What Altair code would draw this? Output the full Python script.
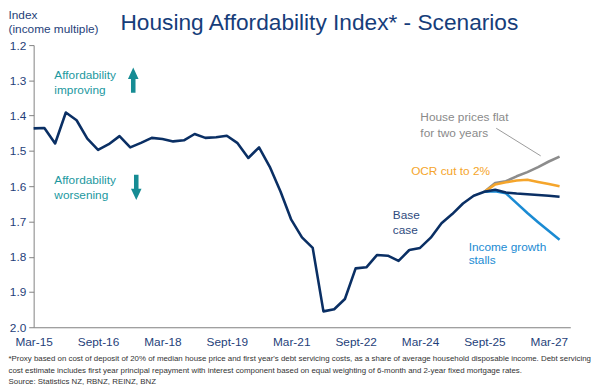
import altair as alt
import pandas as pd

FONT = "Liberation Sans"

# ---- data -----------------------------------------------------------------
# quarterly index 0 = Mar-15 ... 49 = Jun-27
tick_labels = ["Mar-15", "Sept-16", "Mar-18", "Sept-19", "Mar-21",
               "Sept-22", "Mar-24", "Sept-25", "Mar-27"]
tick_step = 6
y_ticks = [1.2, 1.3, 1.4, 1.5, 1.6, 1.7, 1.8, 1.9, 2.0]

# history Mar-15 .. Sept-25
base_hist = [1.436, 1.435, 1.479, 1.391, 1.413, 1.465, 1.497, 1.481, 1.458, 1.490,
             1.477, 1.463, 1.466, 1.473, 1.470, 1.452, 1.463, 1.461, 1.457, 1.478,
             1.520, 1.490, 1.545, 1.615, 1.695, 1.745, 1.775, 1.955, 1.949, 1.920,
             1.833, 1.830, 1.795, 1.797, 1.812, 1.781, 1.775, 1.746, 1.705, 1.679,
             1.649, 1.627, 1.616]
# scenarios Dec-25 .. Jun-27
base_scn = [1.610, 1.618, 1.621, 1.623, 1.625, 1.627, 1.630]
income_scn = [1.614, 1.620, 1.648, 1.676, 1.702, 1.727, 1.752]
ocr_scn = [1.595, 1.589, 1.584, 1.582, 1.588, 1.594, 1.600]
flat_scn = [1.591, 1.586, 1.572, 1.560, 1.546, 1.530, 1.516]

series_names = ["House prices flat", "OCR cut to 2%", "Income growth stalls", "Base case"]
series_colors = ["#8C8C8C", "#F5A52B", "#1B8BD3", "#0A2F64"]

ann_text = ["Affordability", "improving", "Affordability", "worsening",
            "Base", "case", "Income growth", "stalls", "OCR cut to 2%",
            "House prices flat", "for two years"]
ann_q = [1.93, 1.93, 1.93, 1.93, 33.46, 33.46, 40.53, 40.53, 35.17, 36.03, 36.03]
ann_v = [1.2856, 1.3276, 1.5821, 1.6260, 1.6819, 1.7236, 1.7723, 1.8106, 1.558, 1.405, 1.449]
ann_color = ["#1B98A0", "#1B98A0", "#1B98A0", "#1B98A0", "#2E4A7D", "#2E4A7D",
             "#1B8BD3", "#1B8BD3", "#F5A52B", "#8A8A8A", "#8A8A8A"]

arrow_q = [9.28, 9.56]
arrow_v = [1.2993, 1.6034]
connector = {"q": [43.1], "v": [1.4358], "q2": [47.24], "v2": [1.514]}

footnote = [
    "*Proxy based on cost of deposit of 20% of median house price and first year's debt servicing costs, as a share of average household disposable income. Debt servicing",
    "cost estimate includes first year principal repayment with interest component based on equal weighting of 6-month and 2-year fixed mortgage rates.",
    "Source: Statistics NZ, RBNZ, REINZ, BNZ",
]

# ---- tables ---------------------------------------------------------------
rows = []
start = len(base_hist) - 1
for name, vals in [("House prices flat", flat_scn), ("OCR cut to 2%", ocr_scn),
                   ("Income growth stalls", income_scn)]:
    rows.append({"series": name, "q": start, "v": base_hist[-1]})
    for i, v in enumerate(vals):
        rows.append({"series": name, "q": start + 1 + i, "v": v})
for i, v in enumerate(base_hist + base_scn):
    rows.append({"series": "Base case", "q": i, "v": v})
df = pd.DataFrame(rows)

ann_df = pd.DataFrame({"text": ann_text, "q": ann_q, "v": ann_v, "color": ann_color})
conn_df = pd.DataFrame(connector)

label_expr = "[" + ",".join("'%s'" % t for t in tick_labels) + "][round(datum.value/%d)]" % tick_step

x_enc = alt.X(
    "q:Q",
    scale=alt.Scale(domain=[0, 50], nice=False, zero=False),
    axis=alt.Axis(
        values=[i * tick_step for i in range(len(tick_labels))],
        labelExpr=label_expr, ticks=False, grid=False,
        domainColor="#808080", domainWidth=1.2,
        labelColor="#1F3F7A", labelFontSize=12, labelFont=FONT, labelPadding=9,
        labelFlush=False, labelOverlap=False,
        title=footnote, titleFont=FONT, titleFontSize=8, titleFontWeight="normal",
        titleColor="#333333", titleAnchor="start", titleAlign="left",
        titleBaseline="top", titleX=-26, titleY=28, titleLineHeight=11.5,
    ),
)
y_enc = alt.Y(
    "v:Q",
    scale=alt.Scale(domain=[1.2, 2.0], reverse=True, nice=False, zero=False),
    axis=alt.Axis(
        values=y_ticks, format=".1f", grid=False, tickSize=5, tickColor="#808080",
        domainColor="#808080", labelColor="#1F3F7A", labelFontSize=12, labelFont=FONT,
        labelPadding=3, labelOverlap=False, labelFlush=False,
        title=["Index", "(income multiple)"], titleAngle=0, titleAlign="left",
        titleBaseline="top", titleX=-26, titleY=-36, titleFont=FONT, titleFontSize=12,
        titleFontWeight="normal", titleColor="#1F3F7A", titleLineHeight=14,
    ),
)

layers = []
for name, col in zip(series_names, series_colors):
    layers.append(
        alt.Chart(df).transform_filter(alt.datum.series == name)
        .mark_line(color=col, strokeWidth=2.6, strokeJoin="round")
        .encode(x=x_enc, y=y_enc)
    )

texts = alt.Chart(ann_df).mark_text(align="left", baseline="middle", fontSize=12, font=FONT).encode(
    x=x_enc, y=y_enc, text="text:N", color=alt.Color("color:N", scale=None))

up_path = "M0,-1 L0.42,-0.1 L0.18,-0.1 L0.18,1 L-0.18,1 L-0.18,-0.1 L-0.42,-0.1 Z"
down_path = "M0,1 L0.42,0.1 L0.18,0.1 L0.18,-1 L-0.18,-1 L-0.18,0.1 L-0.42,0.1 Z"
arrow_up = alt.Chart(pd.DataFrame({"q": [arrow_q[0]], "v": [arrow_v[0]]})).mark_point(
    shape=up_path, filled=True, size=650, color="#168C94", opacity=1, strokeWidth=0).encode(x=x_enc, y=y_enc)
arrow_down = alt.Chart(pd.DataFrame({"q": [arrow_q[1]], "v": [arrow_v[1]]})).mark_point(
    shape=down_path, filled=True, size=650, color="#168C94", opacity=1, strokeWidth=0).encode(x=x_enc, y=y_enc)

conn = alt.Chart(conn_df).mark_rule(color="#9A9A9A", strokeWidth=1).encode(
    x=x_enc, x2="q2:Q", y=y_enc, y2="v2:Q")

chart = alt.layer(*layers, conn, texts, arrow_up, arrow_down).properties(
    width=544, height=286,
    title=alt.TitleParams(
        "Housing Affordability Index* - Scenarios", anchor="start", frame="group",
        dx=88, fontSize=23, font=FONT, fontWeight="normal", color="#163D7A",
        baseline="alphabetic", offset=-45),
    autosize=alt.AutoSizeParams(type="none"),
    padding={"left": 26, "top": 35, "right": 22, "bottom": 62},
).configure_view(stroke=None)

chart.save("out.html", embed_options={"renderer": "svg", "actions": False})
